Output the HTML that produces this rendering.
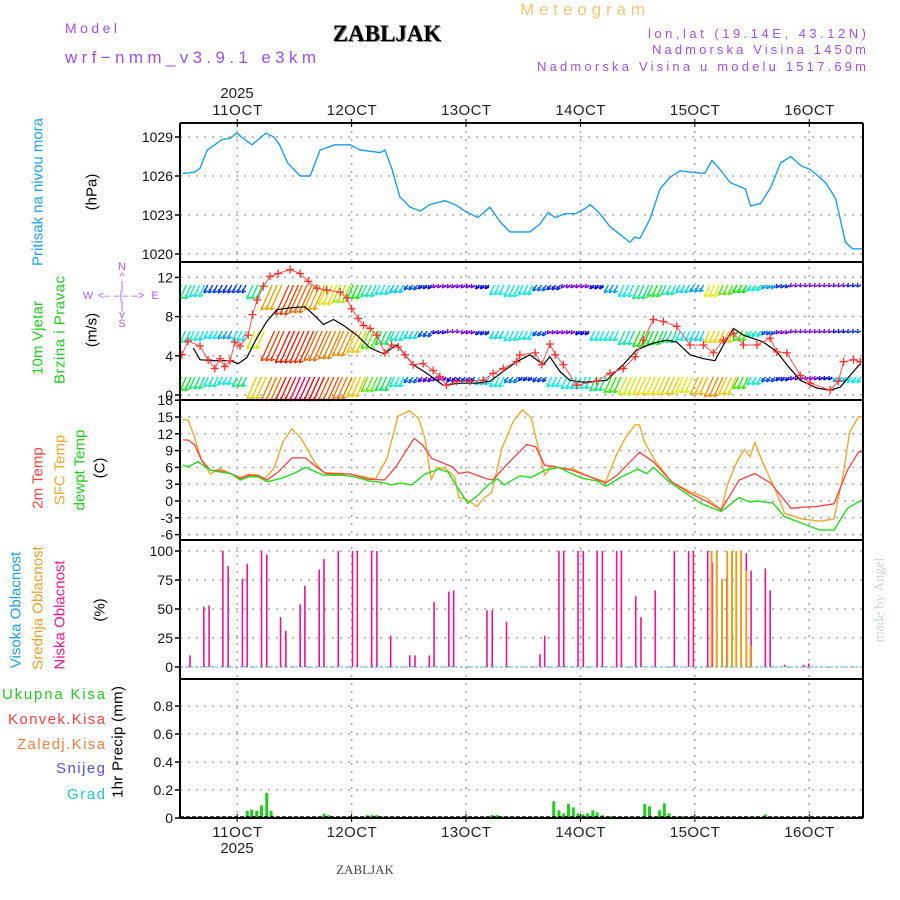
<!DOCTYPE html>
<html><head><meta charset="utf-8"><style>
body{margin:0;background:#fff}
svg{display:block;font-family:"Liberation Sans",sans-serif}
</style></head><body>
<svg id="chart" width="900" height="900" viewBox="0 0 900 900">
<defs><clipPath id="plotclip"><rect x="180" y="123" width="683" height="695"/></clipPath></defs>
<g id="texts">
<text x="65" y="33" font-size="14" fill="#a050f0" textLength="52">Model</text>
<text x="65" y="63" font-size="17" fill="#a050f0" textLength="251">wrf−nmm_v3.9.1 e3km</text>
<text x="388" y="42" font-size="23" font-weight="bold" font-family="Liberation Serif,serif" fill="#888" text-anchor="middle">ZABLJAK</text>
<text x="387" y="41" font-size="23" font-weight="bold" font-family="Liberation Serif,serif" fill="#000" text-anchor="middle">ZABLJAK</text>
<text x="520" y="15" font-size="17" fill="#f0c878" textLength="125">Meteogram</text>
<text x="648" y="38" font-size="13" fill="#a050f0" textLength="218">lon,lat (19.14E, 43.12N)</text>
<text x="652" y="54" font-size="13" fill="#a050f0" textLength="214">Nadmorska Visina 1450m</text>
<text x="537" y="71" font-size="13" fill="#a050f0" textLength="329">Nadmorska Visina u modelu 1517.69m</text>
<text x="237" y="98" font-size="15" text-anchor="middle" fill="#222">2025</text>
<text x="237" y="853" font-size="15" text-anchor="middle" fill="#222">2025</text>
<text x="365" y="874" font-size="13" font-family="Liberation Serif,serif" fill="#444" text-anchor="middle">ZABLJAK</text>
<text transform="rotate(-90 880 600)" x="880" y="600" font-size="14" font-family="Liberation Serif,serif" fill="#ccd8cc" text-anchor="middle" dominant-baseline="central">made by Angel</text>

<text transform="rotate(-90 38 192)" x="38" y="192" font-size="15" fill="#1ea0f8" text-anchor="middle" dominant-baseline="central" textLength="148">Pritisak na nivou mora</text>
<text transform="rotate(-90 92 192)" x="92" y="192" font-size="15" fill="#000" text-anchor="middle" dominant-baseline="central">(hPa)</text>
<text transform="rotate(-90 38 338)" x="38" y="338" font-size="15" fill="#22cc22" text-anchor="middle" dominant-baseline="central" textLength="74">10m Vjetar</text>
<text transform="rotate(-90 60 330)" x="60" y="330" font-size="15" fill="#22cc22" text-anchor="middle" dominant-baseline="central" textLength="108">Brzina i Pravac</text>
<text transform="rotate(-90 92 330)" x="92" y="330" font-size="15" fill="#000" text-anchor="middle" dominant-baseline="central">(m/s)</text>
<g fill="#b060f0" font-size="11" text-anchor="middle">
<text x="122" y="270">N</text><text x="122" y="280">^</text><text x="122" y="289">|</text>
<text x="88" y="299">W</text><text x="121" y="299">&lt;– –|– –&gt;</text><text x="155" y="299">E</text>
<text x="122" y="309">|</text><text x="122" y="318">v</text><text x="122" y="327">S</text>
</g>
<text transform="rotate(-90 38 478)" x="38" y="478" font-size="15" fill="#ff4040" text-anchor="middle" dominant-baseline="central">2m Temp</text>
<text transform="rotate(-90 60 470)" x="60" y="470" font-size="15" fill="#f0a830" text-anchor="middle" dominant-baseline="central">SFC Temp</text>
<text transform="rotate(-90 80 470)" x="80" y="470" font-size="15" fill="#22cc22" text-anchor="middle" dominant-baseline="central">dewpt Temp</text>
<text transform="rotate(-90 100 468)" x="100" y="468" font-size="15" fill="#000" text-anchor="middle" dominant-baseline="central">(C)</text>
<text transform="rotate(-90 16 610)" x="16" y="610" font-size="15" fill="#1ea0f8" text-anchor="middle" dominant-baseline="central">Visoka Oblacnost</text>
<text transform="rotate(-90 38 608)" x="38" y="608" font-size="15" fill="#e8a030" text-anchor="middle" dominant-baseline="central">Srednja Oblacnost</text>
<text transform="rotate(-90 60 615)" x="60" y="615" font-size="15" fill="#f01890" text-anchor="middle" dominant-baseline="central">Niska Oblacnost</text>
<text transform="rotate(-90 100 610)" x="100" y="610" font-size="15" fill="#000" text-anchor="middle" dominant-baseline="central">(%)</text>
<text x="2" y="699" font-size="15" fill="#22cc22" textLength="103">Ukupna Kisa</text>
<text x="8" y="724" font-size="15" fill="#ff4040" textLength="97">Konvek.Kisa</text>
<text x="17" y="749" font-size="15" fill="#f08040" textLength="88">Zaledj.Kisa</text>
<text x="56" y="773" font-size="15" fill="#5050f0" textLength="49">Snijeg</text>
<text x="67" y="799" font-size="15" fill="#20c8c8" textLength="38">Grad</text>
<text transform="rotate(-90 118 742)" x="118" y="742" font-size="15" fill="#000" text-anchor="middle" dominant-baseline="central" textLength="112">1hr Precip (mm)</text>
</g>
<g id="grid"></g>
<g id="marks" clip-path="url(#plotclip)"></g>
<g id="axes"></g>
</svg>
<script>
// ---- data (hours since 10 OCT 12Z) ----
const dayLabels = ["11OCT","12OCT","13OCT","14OCT","15OCT","16OCT"];
const dayHours = [12,36,60,84,108,132];
const pTicks = [1029,1026,1023,1020];
const wTicks = [12,8,4,0];
const tTicks = [18,15,12,9,6,3,0,-3,-6];
const cTicks = [100,75,50,25,0];
const rTicks = [0.8,0.6,0.4,0.2,0];

const presHours = [0.6,3.1,4.2,5.7,7.3,8.8,10.5,11.9,13.6,15.1,16.4,18,19.7,20.9,22.6,25.2,27.3,29.4,32.5,35.7,37.8,42,43,44.5,46.1,48.3,50.4,52.4,55.6,57.7,59.8,62.5,65,67.1,69.2,71.3,73.4,75.5,77.2,78.7,80.8,82.9,85,86.1,88.1,90.2,94.4,95.4,96.5,98.6,100.7,102.8,104.9,107,110.1,111.6,113.3,115.4,118.6,119.7,121.8,123.9,126,128.1,130.2,132.2,135.4,137.5,139.6,141.1,143.4];
const presVals = [1026.2,1026.3,1026.6,1028,1028.4,1028.8,1028.9,1029.3,1028.8,1028.4,1028.8,1029.3,1029,1028.4,1027,1026,1026,1028,1028.4,1028.4,1028,1027.8,1028,1026.5,1024.4,1023.6,1023.3,1023.8,1024.1,1023.8,1023.3,1022.8,1023.6,1022.5,1021.7,1021.7,1021.7,1022.3,1023.2,1022.8,1023.1,1023.1,1023.5,1023.8,1023.1,1022.1,1020.9,1021.3,1021.2,1022.7,1025,1025.9,1026.4,1026.3,1026.2,1027.2,1026.5,1025.5,1025,1023.7,1023.9,1025.1,1027,1027.5,1026.8,1026.5,1025.5,1024.3,1020.9,1020.4,1020.4];

const windHours = [2.8,4.2,6.3,10.5,12.2,14,16.1,18.2,20.3,23.1,26.2,28,30.1,32.2,34.3,37.1,39.9,42.7,45.5,48.9,51.8,55.2,58.7,62.2,65,67.8,70.6,73.4,76.2,77.6,79.7,81.8,84.6,89.5,93,95.8,99.3,102.1,104.2,107,109.8,112.2,114,116.1,118.2,122.4,125.2,127.3,130.1,133.6,136.4,138.5,140.6,142.7];
const windSpeed = [4.8,3.6,3.5,3.5,3.2,3.8,5.8,7.5,8.7,8.9,9,8.2,7.2,7.7,7.1,6.1,4.8,4.2,5.1,3.1,2.2,1,1.2,1.2,1.4,2.4,3.4,4.1,3.1,3.9,2.4,1.5,1.3,1.5,3.1,4.6,5.3,5.6,5.4,4.1,3.7,3.5,5.1,6.8,6.1,5.4,4.4,3.1,1.5,0.7,0.5,0.8,2,3.2];
const gustHours = [0.4,1.7,4.2,5.9,7.3,8.4,9.4,10.5,11.5,12.6,14.3,15.2,16.2,17.5,18.9,20.6,23.1,25.2,26.9,28.7,30.8,33.6,35,36,37.4,38.5,39.9,41.3,43,44.4,45.8,47.2,48.9,51,53.1,54.5,55.9,58,60.8,63.6,65.7,67.8,70.6,71.3,74.5,75.9,77.6,78.7,80.4,83.2,87.4,90.2,93,95.5,97.2,99.3,101.4,104.2,107,109.8,111.9,114,116.1,118.2,121,123.8,125.2,127.3,130.1,132.2,136.4,138.1,139.2,141.3,142.7];
const gustVals = [4.1,5.5,5,3.6,2.7,3.7,2.9,3.5,5.4,5,6.1,8.2,9.7,11.1,12.1,12.4,12.8,12.4,11.6,10.9,10.7,10.5,9.9,8.8,7.8,7.1,6.8,6.1,4.3,5.1,4.9,4.1,3.1,3.2,2.5,1.9,1,1.4,1.4,1.5,2.2,2.7,3.4,4.1,4.3,3.1,5.2,4.1,3.1,1,1.4,2.2,2.7,3.9,5.6,7.7,7.5,7,5.1,5.1,4.3,5.6,6.3,5.1,5.1,5.8,4.4,4.3,2,1.2,0.5,1.4,3.4,3.6,3.4];

// wind barb rows, one sample every 3 hours: barb length (speed-scaled) and direction hue
const barbHours = [0,3,6,9,12,15,18,21,24,27,30,33,36,39,42,45,48,51,54,57,60,63,66,69,72,75,78,81,84,87,90,93,96,99,102,105,108,111,114,117,120,123,126,129,132,135,138,141];
const row1Len = [14,12,8,8,8,14,25,30,28,25,20,18,14,12,10,8,5,4,3,3,3,4,10,12,10,6,5,3,3,4,8,12,14,12,10,8,7,12,10,8,6,4,3,2,2,2,2,2];
const row1Dir = [150,170,225,230,225,150,40,15,25,40,55,80,120,160,180,190,220,235,270,270,265,240,180,175,180,215,230,270,270,240,200,175,150,130,160,185,200,60,100,120,170,200,230,270,270,270,265,235];
const row2Len = [12,10,8,8,10,18,30,32,32,30,28,25,22,18,14,10,8,6,3,2,3,4,8,10,9,5,3,3,4,10,10,14,16,14,12,10,10,12,12,10,6,4,3,2,2,2,2,2];
const row2Dir = [160,175,180,200,180,70,15,5,10,25,30,35,50,100,140,170,185,220,250,270,270,235,185,175,180,220,270,270,240,180,175,160,120,130,150,180,185,55,50,110,170,220,270,270,270,265,240,230];
const row3Len = [14,12,10,8,10,22,24,24,24,24,24,22,20,15,14,10,6,5,4,5,5,8,10,6,4,5,10,12,12,14,16,18,18,18,18,16,18,20,18,12,8,5,4,3,3,3,5,6];
const row3Dir = [130,150,165,175,150,50,30,5,340,0,20,30,50,100,140,170,215,260,270,240,230,185,175,210,230,225,180,175,170,150,110,70,55,55,50,65,45,35,50,110,170,220,235,260,270,240,190,180];

const tempHours = [0.6,1.7,3.1,4.5,6.4,8.3,10.7,12.6,14.5,16.4,18.3,20.6,23.5,26.3,28.2,30.6,35.8,39.6,42.9,45.3,49.1,50.9,52.8,57.1,58.5,60.4,64.2,65.6,68,72.7,74.6,76.5,79.4,82.2,86,89.3,91.7,96.4,99.3,103.1,106.9,110.6,113.5,117.3,120.6,123.9,128.2,130.5,133.4,137.2,140,142.4,144.3];
const temp2m = [10.9,10.9,10,7.3,5.5,5.4,4.9,4,4.6,4.5,3.75,5.2,7.7,7.7,6.4,4.9,4.8,3.9,3.75,6.1,11.2,10,7.6,6.1,4.9,5.2,4,3.75,6,10.1,9.7,6.4,6,5.5,4.3,3.2,4.6,8.7,7,3.45,1.4,-0.1,-1.6,3.75,4.9,3.2,-1.3,-1.1,-1,-0.5,5.5,8.8,8.8];
const sfcHours = [0.6,1.7,3.1,4.5,6.4,8.3,10.7,12.6,14.5,16.4,17.8,19.7,21.6,23.5,25.4,28.2,30.1,35.8,41,43.4,45.7,48.1,50,51.4,52.7,53.8,55.7,57.6,58.5,60,62.3,63.7,65.4,67.5,69.9,71.8,73.7,76.5,78,80.3,82.2,86,89.3,91.7,93.6,95.5,96.4,97.4,99.8,103.1,106.9,110.6,113.5,114.9,116.8,118.4,119.6,120.6,122,124.9,126.8,130.5,134.3,137.2,139.1,140.5,142.4,143.8,144.6];
const tempSfc = [14.5,14.5,11.2,7.3,4.8,5.8,4.9,4.2,4.8,4.6,4,5.8,10.6,12.9,11.2,7,5.1,4.8,3.9,7.6,15.1,16.1,14.8,11.2,3.75,6,5.8,4.3,0.6,0.4,-1,0.5,1.5,9.4,14.2,16.3,14.8,4.6,6.3,5.7,5.8,4.3,3.45,8.5,11.5,13.6,13.6,10.6,7,3.45,1.7,0.5,-1.6,3,7,9.2,7.9,10.5,7.3,2,-2.2,-3.2,-3.6,-3.2,4.6,12.4,15.1,14.9,13.9];
const dewHours = [0.6,1.7,3.8,6.4,8.3,10.7,12.6,14.5,16.4,18.3,21.1,24.4,26.3,30.1,33.9,36.7,39.6,42.4,44.3,46.2,48.6,51.4,54.3,56.2,58.5,60.4,62.3,64.7,66.6,68,71.3,73.7,76.5,79.4,81.3,84.6,87.4,89.3,92.6,96,97.9,99.3,102.6,105.9,109.2,113.5,117.3,119.6,121.1,124.4,126.8,130.5,134.3,137.2,140,144.3];
const tempDew = [6.4,6.1,7,5.5,5.2,4.9,3.75,4.3,4.3,3.45,4,5.1,6,4.6,4.6,4.3,3.6,3.3,2.9,3.2,2.9,4.8,5.7,5.2,2,-0.4,0.9,2.9,4,2.9,4.5,4.2,5.5,6,5.2,4,3.6,2.6,4.3,5.7,4.9,6,3.45,1.5,-0.4,-1.9,0.6,-0.2,0,-0.4,-2.8,-4,-5.2,-5.2,-1.3,0.8];

const lowCloudHours = [2.1,5,6.1,9,10.1,13.1,14.1,17.1,18.2,21.1,22.2,25.2,26.2,29.2,30.2,33.2,36.2,37.2,40.2,41.3,44.2,48.2,49.3,52.3,53.3,56.4,57.4,64.4,65.5,68.5,75.5,76.5,79.5,80.5,83.5,84.6,87.5,88.6,91.6,92.6,95.6,96.7,99.7,103.7,106.7,107.7,110.7,111.7,114.7,115.8,118.8,119.8,122.8,123.8,126.8,130.8,131.9];
const lowCloud = [10,52,53,100,87,76,89,100,97,43,31,54,70,84,93,100,100,100,100,100,27,10,10,10,56,65,66,49,49,39,11,27,100,100,100,100,100,100,100,100,61,43,66,100,100,100,100,90,77,87,98,83,85,66,2,2,3];
const midCloudHours = [111.5,112.6,113.7,114.8,115.8,116.7,117.7,118.8,119.7];
const midCloud = [100,100,76,100,100,100,100,83,18];

const precipHours = [9,14.1,15.05,16.1,17.1,18.2,19.1,30.2,31.2,36.3,38.3,39.3,40.3,41.3,42.3,65.5,66.5,67.5,78.4,79.5,80.5,81.5,82.5,83.5,84.5,85.5,86.6,87.5,88.6,89.6,90.6,97.5,98.5,100.6,101.6,102.6,103.6,104.7,105.7,107.7,119.8,122.8];
const precipVals = [0.01,0.05,0.06,0.05,0.09,0.18,0.05,0.03,0.02,0.01,0.01,0.02,0.02,0.02,0.01,0.02,0.02,0.01,0.12,0.055,0.033,0.1,0.076,0.033,0.026,0.033,0.055,0.04,0.02,0.012,0.012,0.1,0.083,0.055,0.105,0.033,0.012,0.012,0.012,0.01,0.01,0.026];

// ---- scales ----
const X0=180, X1=863, PXH=4.767;
const xS = h => X0 + h*PXH;
const yP = v => 137 + (1029-v)*13;
const yW = v => 395 - v*9.8;
const yT = v => 501 - v*5.6;
const yC = v => 667 - v*1.16;
const yR = v => 818 - v*140;
const panels = [123,262,400,540,679,818];

const NS="http://www.w3.org/2000/svg";
const grid=document.getElementById('grid'), marks=document.getElementById('marks'), axes=document.getElementById('axes');
function mk(tag, attrs, parent){const e=document.createElementNS(NS,tag);for(const k in attrs)e.setAttribute(k,attrs[k]);parent.appendChild(e);return e;}

dayHours.forEach((h,i)=>{
  const x=xS(h);
  const g=mk('line',{x1:x,x2:x,y1:123,y2:818,stroke:'#aaa','stroke-width':1.5,'stroke-dasharray':'2,6'},grid);
  
  
  const t1=mk('text',{x:x,y:115,'font-size':15,'text-anchor':'middle',fill:'#222',textLength:50},axes);
  t1.textContent=dayLabels[i];
  
  
  const t2=mk('text',{x:x,y:837,'font-size':15,'text-anchor':'middle',fill:'#222',textLength:50},axes);
  t2.textContent=dayLabels[i];
  
  
  [123,818].forEach(yy=>{mk('line',{x1:x,x2:x,y1:yy-4,y2:yy+4,stroke:'#000','stroke-width':1},axes);});
});

function yAxis(ticks, yf, name, fmt){
  ticks.forEach(v=>{
    const y=yf(v);
    const gl=mk('line',{x1:X0,x2:X1,y1:y,y2:y,stroke:'#aaa','stroke-width':1.5,'stroke-dasharray':'2,6'},grid);
    
    
    mk('line',{x1:X0-5,x2:X0,y1:y,y2:y,stroke:'#000','stroke-width':1.5},axes);
    const t=mk('text',{x:X0-7,y:y+5,'font-size':14,'text-anchor':'end',fill:'#111'},axes);
    t.textContent=fmt?fmt(v):String(v);
    
    
  });
}
yAxis(pTicks,yP,'pressure');
yAxis(wTicks,yW,'wind');
yAxis(tTicks,yT,'temp');
yAxis(cTicks,yC,'cloud');
yAxis(rTicks,yR,'precip',v=>v===0?'0':v.toFixed(1));

panels.forEach((y,i)=>{
  const l=mk('line',{x1:X0,x2:X1,y1:y,y2:y,stroke:'#000','stroke-width':2},axes);
  
  
});
mk('line',{x1:X0,x2:X0,y1:123,y2:818,stroke:'#000','stroke-width':2},axes);
mk('line',{x1:X1,x2:X1,y1:123,y2:818,stroke:'#000','stroke-width':2},axes);

function line(hs, vs, yf, color, name, w){
  const pts=hs.map((h,i)=>xS(h).toFixed(1)+','+yf(vs[i]).toFixed(1)).join(' ');
  const p=mk('polyline',{points:pts,fill:'none',stroke:color,'stroke-width':w||1.3,'stroke-linejoin':'round'},marks);
  
  
  return p;
}
line(presHours,presVals,yP,'#1e9cf0','pressure-line',1.4);

// wind barbs
function barbRow(lens, dirs, base, name){
  barbHours.forEach((h,i)=>{
    const L=lens[i], col='hsl('+dirs[i]+',95%,48%)';
    for(let k=-1;k<=1;k++){
      const x=xS(h+k);
      const dx=Math.max(4,L*0.45);
      const b=mk('path',{d:`M${x} ${base+L}L${x+dx} ${base}M${x} ${base+L}L${x+4} ${base+L-2}M${x} ${base+L}L${x+1} ${base+L-4}`,stroke:col,'stroke-width':1.4,fill:'none'},marks);
      
      
    }
  });
}
barbRow(row1Len,row1Dir,285,'wind-row-upper');
barbRow(row2Len,row2Dir,331,'wind-row-middle');
barbRow(row3Len,row3Dir,377,'wind-row-lower');

line(windHours,windSpeed,yW,'#000','wind-speed-line',1.2);
line(gustHours,gustVals,yW,'#ff5050','wind-gust-line',1);
gustHours.forEach((h,i)=>{
  const x=xS(h), y=yW(gustVals[i]);
  const c=mk('path',{d:`M${x-4} ${y}H${x+4}M${x} ${y-4}V${y+4}`,stroke:'#ff3030','stroke-width':1.3,fill:'none'},marks);
  
  
});

line(sfcHours,tempSfc,yT,'#f0a830','sfc-temp-line',1.4);
line(tempHours,temp2m,yT,'#ff4040','temp-2m-line',1.3);
line(dewHours,tempDew,yT,'#22dd22','dewpoint-line',1.4);

const hc=mk('line',{x1:X0,x2:X1,y1:yC(0),y2:yC(0),stroke:'#8cc8f0','stroke-width':1.5,'stroke-dasharray':'3,2'},marks);


lowCloudHours.forEach((h,i)=>{
  const x=xS(h);
  const b=mk('rect',{x:x-0.8,y:yC(lowCloud[i]),width:1.6,height:yC(0)-yC(lowCloud[i]),fill:'#f0148c'},marks);
  
  
});
midCloudHours.forEach((h,i)=>{
  const x=xS(h);
  const b=mk('rect',{x:x-1,y:yC(midCloud[i]),width:2,height:yC(0)-yC(midCloud[i]),fill:'#e8a020'},marks);
  
  
});

precipHours.forEach((h,i)=>{
  const x=xS(h);
  const b=mk('rect',{x:x-1.5,y:yR(precipVals[i]),width:3,height:yR(0)-yR(precipVals[i]),fill:'#22cc22'},marks);
  
  
});
const pb=mk('line',{x1:X0,x2:X1,y1:817,y2:817,stroke:'#000','stroke-width':1.5,'stroke-dasharray':'4,2'},marks);


</script>
</body></html>
